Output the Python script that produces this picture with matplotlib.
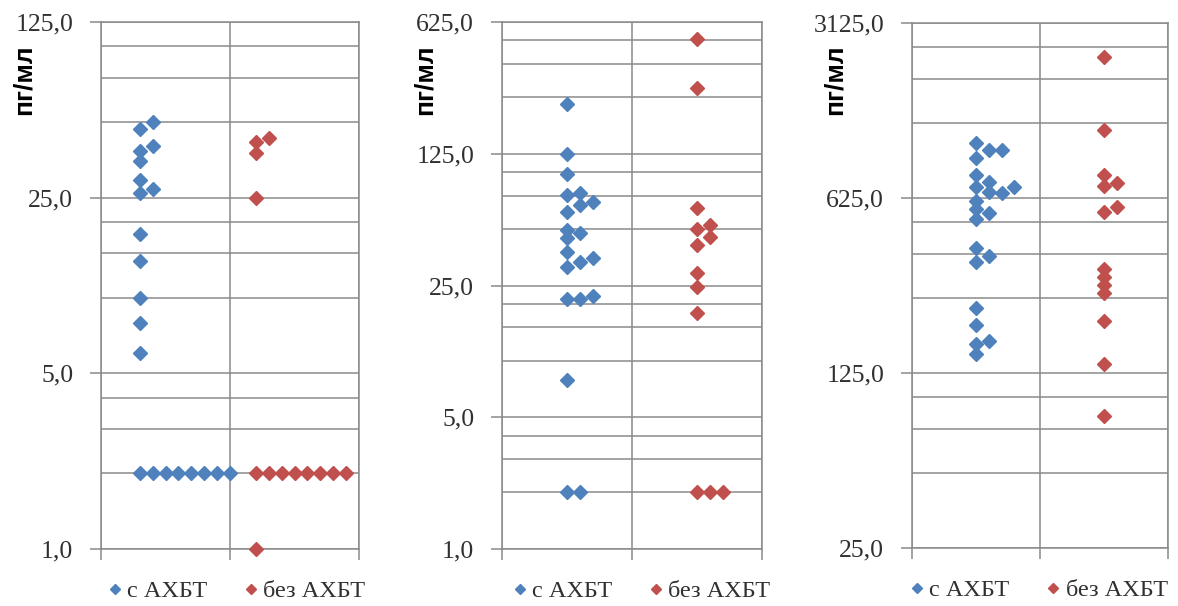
import numpy as np
import matplotlib
matplotlib.use('Agg')
import matplotlib.pyplot as plt
from matplotlib.ticker import LogLocator, FixedLocator, FuncFormatter, NullFormatter

# panel 1 (range 1 - 125)
p1_blue_x = [0.3, 0.4, 0.4, 0.3, 0.3, 0.3, 0.4, 0.3, 0.3, 0.3, 0.3, 0.3, 0.3,
             0.3, 0.4, 0.5, 0.6, 0.7, 0.8, 0.9, 1.0]
p1_blue_y = [47, 50, 40, 38.4, 35, 29.4, 27, 26.1, 18, 14, 10, 7.9, 6.0,
             2, 2, 2, 2, 2, 2, 2, 2]
p1_red_x = [1.3, 1.2, 1.2, 1.2, 1.2,
            1.2, 1.3, 1.4, 1.5, 1.6, 1.7, 1.8, 1.9]
p1_red_y = [43.2, 41.7, 37.6, 25, 1.0,
            2, 2, 2, 2, 2, 2, 2, 2]

# panel 2 (range 1 - 625)
p2_blue_x = [0.5, 0.5, 0.5, 0.6, 0.5, 0.7, 0.6, 0.5, 0.5, 0.6, 0.5, 0.5, 0.7,
             0.6, 0.5, 0.5, 0.6, 0.7, 0.5, 0.5, 0.6]
p2_blue_y = [229, 125, 98, 77.4, 75.6, 69.3, 66.8, 61.3, 49.3, 47.5, 44.7, 37.6, 35,
             33.3, 31.3, 21.2, 21.2, 21.9, 7.9, 2, 2]
p2_red_x = [1.5, 1.5, 1.5, 1.6, 1.5, 1.6, 1.5, 1.5, 1.5, 1.5, 1.5, 1.6, 1.7]
p2_red_y = [506, 278, 64.4, 52.3, 49.8, 45.3, 41, 29.1, 24.6, 17.9, 2, 2, 2]

# panel 3 (range 25 - 3125)
p3_blue_x = [0.5, 0.6, 0.7, 0.5, 0.5, 0.6, 0.5, 0.8, 0.6, 0.7, 0.5, 0.5, 0.6,
             0.5, 0.5, 0.6, 0.5, 0.5, 0.5, 0.6, 0.5, 0.5]
p3_blue_y = [1039, 972, 972, 903, 772, 724, 692, 692, 661, 656, 608, 565, 545,
             516, 396, 367, 347, 227, 194, 168, 163, 149]
p3_red_x = [1.5, 1.5, 1.5, 1.6, 1.5, 1.6, 1.5, 1.5, 1.5, 1.5, 1.5, 1.5, 1.5, 1.5]
p3_red_y = [2290, 1169, 772, 718, 698, 575, 550, 325, 302, 281, 261, 202, 136, 84]

y_ranges = [(1, 125), (1, 625), (25, 3125)]
series_names = ['с АХБТ', 'без АХБТ']
y_label = 'пг/мл'

blue = '#4F81BD'
red = '#C0504D'
grid_c = '#8a8a8a'

panels = [(p1_blue_x, p1_blue_y, p1_red_x, p1_red_y),
          (p2_blue_x, p2_blue_y, p2_red_x, p2_red_y),
          (p3_blue_x, p3_blue_y, p3_red_x, p3_red_y)]

# axes boxes in pixels: left, right, top, bottom
boxes = [(101, 359, 22, 549), (502, 762, 22, 549), (912, 1168, 23, 548)]
leg_cx = [0.53, 0.54, 0.5]
W, H = 1178, 606

fig = plt.figure(figsize=(W / 100, H / 100), dpi=100)
serif = ['Liberation Serif', 'DejaVu Serif']

fmt = FuncFormatter(lambda v, p: ('%.1f' % v).replace('.', ','))

for (bx, by, rx, ry), (l, r, t, b), (y0, y1), cx in zip(panels, boxes, y_ranges, leg_cx):
    ax = fig.add_axes([l / W, (H - b) / H, (r - l) / W, (b - t) / H])
    ax.set_yscale('log', base=5)
    ax.set_ylim(y0, y1)
    ax.set_xlim(0, 2)

    ax.yaxis.set_major_locator(LogLocator(base=5))
    ax.yaxis.set_minor_locator(LogLocator(base=5, subs=[2, 3, 4]))
    ax.yaxis.set_major_formatter(fmt)
    ax.yaxis.set_minor_formatter(NullFormatter())
    ax.xaxis.set_major_locator(FixedLocator([0, 1, 2]))
    ax.set_xticklabels([])

    ax.grid(True, which='major', axis='both', color=grid_c, lw=1.1, zorder=0)
    ax.grid(True, which='minor', axis='y', color=grid_c, lw=1.1, zorder=0)
    ax.set_axisbelow(True)
    ax.tick_params(axis='y', which='major', direction='out', length=8, width=1.1,
                   color=grid_c, pad=12, labelsize=18.5, labelcolor='#303030')
    ax.tick_params(axis='y', which='minor', length=0)
    ax.tick_params(axis='x', which='major', direction='out', length=8, width=1.1,
                   color=grid_c)
    for lab in ax.get_yticklabels():
        lab.set_family(serif)
    for s in ax.spines.values():
        s.set_color(grid_c)
        s.set_linewidth(1.1)

    ax.plot(bx, by, ls='none', marker='D', ms=7, color=blue, mec=blue,
            label=series_names[0], zorder=3, clip_on=False)
    ax.plot(rx, ry, ls='none', marker='D', ms=7, color=red, mec=red,
            label=series_names[1], zorder=3, clip_on=False)

    leg = ax.legend(loc='upper center', bbox_to_anchor=(cx, -0.027), ncol=2,
                    frameon=False, handlelength=0.4, handletextpad=0.3,
                    columnspacing=1.6, markerscale=0.75, borderpad=0.2,
                    prop={'family': serif, 'size': 17.5})
    for txt in leg.get_texts():
        txt.set_color('#303030')

    fig.text((l - 77) / W, 1 - 80 / H, y_label, rotation=90, ha='center', va='center',
             fontsize=19, fontweight='bold', family=['Liberation Sans', 'DejaVu Sans'])

fig.savefig('out.png', dpi=100, facecolor='white')
